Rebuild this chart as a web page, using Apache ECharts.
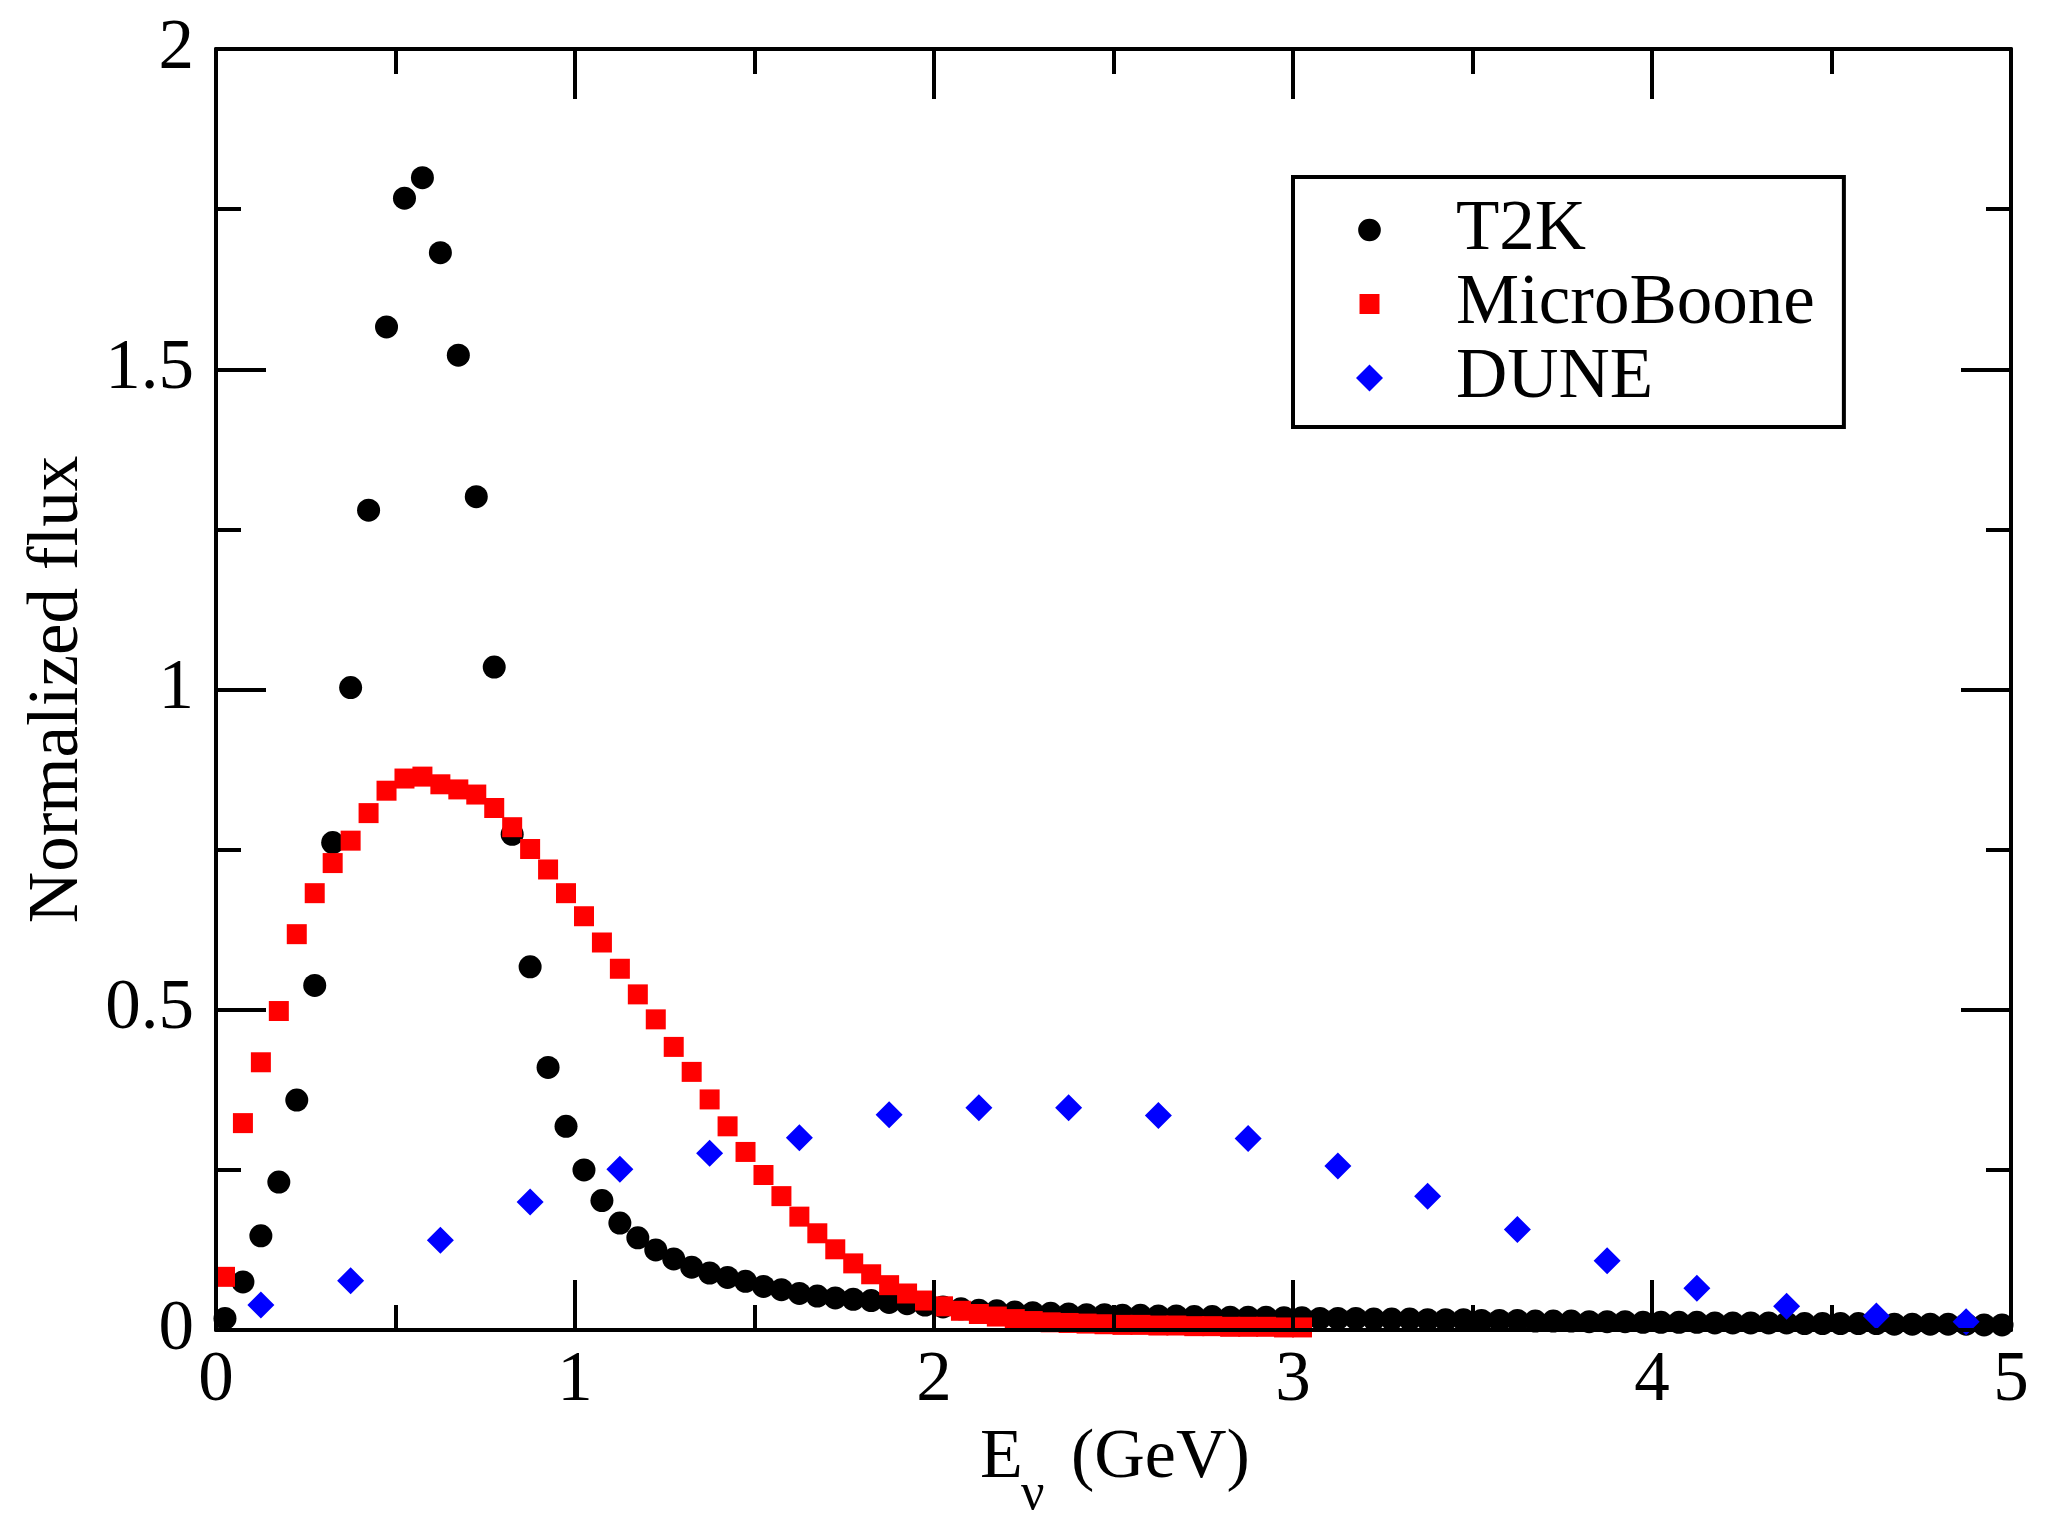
<!DOCTYPE html>
<html>
<head>
<meta charset="utf-8">
<script src="https://cdn.jsdelivr.net/npm/echarts@6/dist/echarts.min.js"></script>
<style>
html,body{margin:0;padding:0;background:#fff;}
#chart{width:2059px;height:1531px;}
</style>
</head>
<body>
<div id="chart"></div>
<script>
// ---- data ----
const t2kE = [0.025,0.075,0.125,0.175,0.225,0.275,0.325,0.375,0.425,0.475,0.525,0.575,0.625,0.675,0.725,0.775,0.825,0.875,0.925,0.975,
1.025,1.075,1.125,1.175,1.225,1.275,1.325,1.375,1.425,1.475,1.525,1.575,1.625,1.675,1.725,1.775,1.825,1.875,1.925,1.975,
2.025,2.075,2.125,2.175,2.225,2.275,2.325,2.375,2.425,2.475,2.525,2.575,2.625,2.675,2.725,2.775,2.825,2.875,2.925,2.975,
3.025,3.075,3.125,3.175,3.225,3.275,3.325,3.375,3.425,3.475,3.525,3.575,3.625,3.675,3.725,3.775,3.825,3.875,3.925,3.975,
4.025,4.075,4.125,4.175,4.225,4.275,4.325,4.375,4.425,4.475,4.525,4.575,4.625,4.675,4.725,4.775,4.825,4.875,4.925,4.975];
const t2kFlux = [0.018,0.075,0.147,0.231,0.359,0.538,0.761,1.003,1.280,1.566,1.767,1.799,1.682,1.522,1.301,1.035,0.774,0.567,0.410,0.318,
0.250,0.202,0.167,0.144,0.125,0.111,0.098,0.089,0.082,0.076,0.068,0.063,0.057,0.053,0.050,0.048,0.046,0.043,0.041,0.039,
0.036,0.033,0.031,0.030,0.028,0.027,0.026,0.025,0.024,0.024,0.023,0.023,0.022,0.022,0.021,0.021,0.020,0.020,0.020,0.019,
0.019,0.018,0.018,0.018,0.017,0.017,0.017,0.016,0.016,0.016,0.015,0.015,0.015,0.014,0.014,0.014,0.013,0.013,0.013,0.012,
0.012,0.012,0.012,0.011,0.011,0.011,0.011,0.011,0.010,0.010,0.010,0.010,0.010,0.009,0.009,0.009,0.009,0.009,0.008,0.008];

const booneE = [0.025,0.075,0.125,0.175,0.225,0.275,0.325,0.375,0.425,0.475,0.525,0.575,0.625,0.675,0.725,0.775,0.825,0.875,0.925,0.975,
1.025,1.075,1.125,1.175,1.225,1.275,1.325,1.375,1.425,1.475,1.525,1.575,1.625,1.675,1.725,1.775,1.825,1.875,1.925,1.975,
2.025,2.075,2.125,2.175,2.225,2.275,2.325,2.375,2.425,2.475,2.525,2.575,2.625,2.675,2.725,2.775,2.825,2.875,2.925,2.975,3.025];
const booneFlux = [0.083,0.323,0.418,0.498,0.618,0.682,0.729,0.764,0.807,0.842,0.861,0.864,0.852,0.844,0.836,0.815,0.785,0.751,0.719,0.682,
0.646,0.605,0.564,0.524,0.485,0.442,0.403,0.360,0.318,0.278,0.242,0.209,0.177,0.151,0.126,0.104,0.087,0.070,0.057,0.046,
0.037,0.030,0.025,0.021,0.017,0.014,0.012,0.011,0.010,0.009,0.008,0.008,0.007,0.007,0.006,0.006,0.005,0.005,0.005,0.004,0.004];

const duneE = [0.125,0.375,0.625,0.875,1.125,1.375,1.625,1.875,2.125,2.375,2.625,2.875,3.125,3.375,3.625,3.875,4.125,4.375,4.625,4.875];
const duneFlux = [0.039,0.077,0.140,0.200,0.251,0.276,0.300,0.336,0.347,0.347,0.335,0.299,0.256,0.209,0.157,0.108,0.065,0.037,0.022,0.013];

const seriesNames = ['T2K','MicroBoone','DUNE'];
const xTicks = [0,1,2,3,4,5];
const yTicks = [0,0.5,1,1.5,2];

// ---- chart ----
const FONT = 'Liberation Serif';
const zip = (a,b) => a.map((v,i) => [v,b[i]]);
const chart = echarts.init(document.getElementById('chart'), null, {renderer:'canvas'});

const lineBlack = {color:'#000', width:4};
function axisBase(extra){
  return Object.assign({
    type:'value',
    z: 10,
    axisLine:{show:true, onZero:false, lineStyle:lineBlack},
    axisTick:{show:true, inside:true, length:50, lineStyle:lineBlack},
    minorTick:{show:true, splitNumber:2, length:25, lineStyle:lineBlack},
    splitLine:{show:false},
    minorSplitLine:{show:false}
  }, extra);
}

const option = {
  backgroundColor:'#fff',
  animation:false,
  grid:{left:216, right:48, top:49, bottom:201, containLabel:false},
  xAxis:[
    axisBase({position:'bottom', min:xTicks[0], max:xTicks[xTicks.length-1], interval:1,
      axisLabel:{show:true, margin:16, color:'#000', fontFamily:FONT, fontSize:71,
        formatter: v => String(xTicks[xTicks.indexOf(v)])}}),
    axisBase({position:'top', min:xTicks[0], max:xTicks[xTicks.length-1], interval:1,
      axisLabel:{show:false}})
  ],
  yAxis:[
    axisBase({position:'left', min:yTicks[0], max:yTicks[yTicks.length-1], interval:0.5,
      name:'Normalized flux', nameLocation:'middle', nameGap:121,
      nameTextStyle:{fontFamily:FONT, fontSize:71, color:'#000'},
      axisLabel:{show:true, margin:22, color:'#000', fontFamily:FONT, fontSize:71,
        formatter: v => String(yTicks[yTicks.indexOf(v)])}}),
    axisBase({position:'right', min:yTicks[0], max:yTicks[yTicks.length-1], interval:0.5,
      axisLabel:{show:false}})
  ],
  legend:{
    orient:'vertical',
    left:1293, top:177,
    padding:[17,29,13,63],
    itemGap:2,
    itemWidth:27, itemHeight:27,
    backgroundColor:'#fff',
    borderColor:'#000', borderWidth:4, borderRadius:0,
    selectedMode:false,
    textStyle:{fontFamily:FONT, fontSize:71, color:'#000', lineHeight:72, padding:[0,0,0,68]},
    data:[
      {name:seriesNames[0], icon:'path://M0 0M100 100M8 50A42 42 0 1 0 92 50A42 42 0 1 0 8 50Z', itemStyle:{opacity:1}},
      {name:seriesNames[1], icon:'path://M0 0M100 100M13 13L87 13L87 87L13 87Z', itemStyle:{opacity:1}},
      {name:seriesNames[2], icon:'diamond', itemStyle:{opacity:1}}
    ]
  },
  graphic:[
    {type:'text', x:980, y:1459, z:100, style:{text:'E', font:'70px "Liberation Serif"', fill:'#000', textAlign:'left', textVerticalAlign:'middle', verticalAlign:'middle'}},
    {type:'text', x:1021, y:1495, z:100, style:{text:'ν', font:'52px "Liberation Serif"', fill:'#000', textAlign:'left', textVerticalAlign:'middle', verticalAlign:'middle'}},
    {type:'text', x:1071, y:1459, z:100, style:{text:'(GeV)', font:'70px "Liberation Serif"', fill:'#000', textAlign:'left', textVerticalAlign:'middle', verticalAlign:'middle'}}
  ],
  series:[
    {name:seriesNames[0], type:'scatter', xAxisIndex:0, yAxisIndex:0, symbol:'circle', symbolSize:23,
      itemStyle:{color:'#000000', opacity:1}, emphasis:{disabled:true}, data:zip(t2kE,t2kFlux), z:2},
    {name:seriesNames[1], type:'scatter', xAxisIndex:0, yAxisIndex:0, symbol:'rect', symbolSize:20,
      itemStyle:{color:'#ff0000', opacity:1}, emphasis:{disabled:true}, data:zip(booneE,booneFlux), z:3},
    {name:seriesNames[2], type:'scatter', xAxisIndex:0, yAxisIndex:0, symbol:'diamond', symbolSize:[27,27],
      itemStyle:{color:'#0000ff', opacity:1}, emphasis:{disabled:true}, data:zip(duneE,duneFlux), z:4}
  ]
};
chart.setOption(option);
</script>
</body>
</html>
